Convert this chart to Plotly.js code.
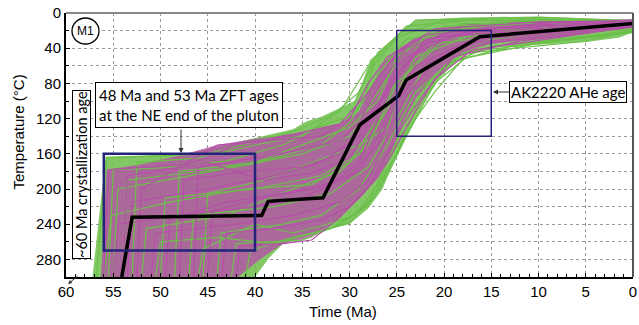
<!DOCTYPE html>
<html><head><meta charset="utf-8">
<script src="https://cdn.plot.ly/plotly-3.0.1.min.js"></script>
<style>html,body{margin:0;padding:0;background:#fff}#chart{width:639px;height:325px}</style>
</head><body><div id="chart"></div>
<script>
// ---- data ----
const timeTicks = [60,55,50,45,40,35,30,25,20,15,10,5,0];
const tempTicks = [0,40,80,120,160,200,240,280];

const bestFitTime = [54.1, 53.0, 39.3, 38.6, 32.8, 28.9, 24.8, 24.0, 16.2, 0];
const bestFitTemp = [300, 232, 230, 214, 210, 127, 94, 76, 27, 12];

const greenEnvTime = [57.2,55.8,52,47,44,40,36,34.5,33,31,29.5,28.6,27.8,26,24.9,23,18,10,0, 0,1.5,5,10,15,17.5,19,20.5,22,23.5,25,26.5,28,30,33,35,37,38.5,40];
const greenEnvTemp = [300,163,162,160,152,142,132,123,118,108,100,78,53,36,25,8,5,4,8, 22,28,33,36,40,47,58,75,100,130,160,200,222,240,248,255,262,278,300];

const magentaEnvTime = [56.3,55.7,52,48,44,40,35,31,29,28,26.5,25,23,20,17,10,0, 0,5,10,15,17,19,21,23,24.5,25.5,27,28.5,31,34,37,39.5,41.8];
const magentaEnvTemp = [300,178,172,162,150,143,136,126,112,88,58,42,28,18,12,9,7, 16,24,29,35,41,52,70,98,128,158,188,205,232,255,262,280,300];

// individual paths: [time, temp, time, temp, ...]
const greenPaths = [
 [56.8,300, 55.7,165, 45,160, 36,135, 31,112, 28,60, 24,15, 15,6, 0,10],
 [54,300, 53.5,190, 42,175, 35,160, 30,140, 27,90, 24,40, 18,12, 0,12],
 [50,300, 49.5,210, 40,200, 33,185, 29,160, 26,110, 23,50, 16,20, 0,14],
 [47,300, 46.5,230, 38,220, 32,205, 28,175, 25,120, 22,60, 15,30, 0,18],
 [44,300, 43.6,250, 37,240, 33,230, 29,200, 26,150, 23,90, 18,45, 0,22],
 [41,300, 40.5,270, 36,255, 32,245, 29,225, 27,195, 25,160, 23,110, 20,60, 15,38, 0,22],
 [55,300, 54.5,200, 47,185, 38,165, 33,150, 30,125, 27,70, 24,30, 12,8, 0,9],
 [52,300, 51.5,245, 43,230, 36,200, 31,180, 28,150, 25,80, 21,35, 10,20, 0,15],
 [48.5,300, 48,180, 40,170, 35,150, 30,130, 27,100, 25,50, 20,15, 0,11],
 [45.5,300, 45,205, 39,190, 34,170, 29,150, 26,130, 24,70, 20,30, 8,15, 0,14],
 [42.5,300, 42,262, 35,258, 31,240, 28,218, 26,185, 24,140, 21,80, 17,45, 5,32, 0,20],
 [56,300, 55.2,230, 49,215, 41,200, 34,195, 30,170, 27,120, 25,75, 22,25, 14,10, 0,8],
 [53,300, 52.5,170, 46,165, 40,150, 35,140, 32,118, 29,90, 27,45, 23,8, 10,5, 0,9],
 [50.5,300, 50,260, 44,255, 38,262, 33,248, 30,238, 28,215, 26,170, 24,120, 22,85, 19,55, 12,35, 0,20],
 [55.5,300, 55,178, 50,176, 43,168, 37,150, 33,128, 30,118, 28.5,100, 27.5,60, 25,28, 20,8, 0,10],
 [46,300, 45.5,268, 40,240, 36,250, 33,242, 30,232, 27.5,210, 26,180, 24.5,150, 23,120, 21,90, 18,52, 10,34, 0,21]
];
const magentaPaths = [
 [56,300, 55.5,178, 47,172, 42,150, 36,138, 31,126, 28,90, 25,45, 21,18, 10,10, 0,9],
 [53.5,300, 53,215, 45,200, 38,185, 33,170, 29,140, 26,90, 23,45, 18,22, 0,12],
 [51,300, 50.5,250, 42,240, 36,230, 31,215, 28,190, 26,140, 24,95, 21,55, 16,35, 0,15],
 [48,300, 47.5,190, 41,180, 35,175, 31,160, 28,120, 25,70, 22,35, 15,18, 0,11],
 [45,300, 44.5,225, 39,210, 34,200, 30,185, 27,150, 25,100, 22,60, 17,30, 0,13],
 [42,300, 41.6,265, 37,262, 34,258, 31,232, 28.5,205, 26,170, 24,130, 21,75, 17,42, 8,28, 0,15],
 [55,300, 54.5,240, 48,230, 40,220, 35,210, 32,195, 29,170, 27,120, 25,70, 22,30, 12,14, 0,10],
 [52.5,300, 52,200, 44,150, 38,145, 33,140, 30,120, 28,80, 26,50, 22,25, 10,12, 0,8],
 [49.5,300, 49,235, 43,215, 37,205, 32,195, 29,180, 27,140, 25,90, 23,60, 18,35, 0,14],
 [46.5,300, 46,175, 40,165, 35,155, 31,145, 29,125, 27,85, 24,40, 19,20, 0,10],
 [43.5,300, 43,250, 38,245, 33,235, 30,220, 28,198, 26,160, 24.5,130, 22,90, 19,50, 12,32, 0,16],
 [54,300, 53.5,185, 45,170, 39,190, 34,182, 30,165, 27,110, 25,60, 21,28, 0,11]
];

const zftBoxTime = [56, 40], zftBoxTemp = [160, 270];
const aheBoxTime = [25, 15], aheBoxTemp = [20, 140];

// ---- helpers ----
function flatten(paths){
  const x=[], y=[];
  paths.forEach(p=>{ for(let i=0;i<p.length;i+=2){ x.push(p[i]); y.push(p[i+1]); } x.push(null); y.push(null); });
  return {x, y};
}
// plot area in pixels: left 66, right 633, top 13, bottom 277
const PL=66, PR=633, PT=13, PB=277;
const px = v => (v-PL)/(PR-PL);
const py = v => 1-(v-PT)/(PB-PT);

const GREEN='#6cc04a', MAG='#b550a8', NAVY='#23237a';
const g = flatten(greenPaths), m = flatten(magentaPaths);

const traces = [
  {x:greenEnvTime, y:greenEnvTemp, type:'scatter', mode:'lines', fill:'toself', fillcolor:'rgba(108,192,74,0.85)', line:{width:0}},
  {x:magentaEnvTime, y:magentaEnvTemp, type:'scatter', mode:'lines', fill:'toself', fillcolor:'rgba(181,80,168,0.8)', line:{width:0}},
  {x:g.x, y:g.y, type:'scatter', mode:'lines', line:{color:GREEN, width:1.2}, connectgaps:false},
  {x:m.x, y:m.y, type:'scatter', mode:'lines', line:{color:MAG, width:1.2}, connectgaps:false},
  {x:bestFitTime, y:bestFitTemp, type:'scatter', mode:'lines', line:{color:'#000', width:3.5}}
];

const tickFont = {family:'"Liberation Sans", Arial, sans-serif', size:15, color:'#000'};
const noteFont = {family:'Lato, sans-serif', size:15, color:'#000'};
const ann = (o) => Object.assign({xref:'paper', yref:'paper', xanchor:'center', yanchor:'middle'}, o);

const layout = {
  width:639, height:325,
  margin:{l:PL, r:639-PR, t:PT, b:325-PB},
  paper_bgcolor:'#fff', plot_bgcolor:'#fff',
  showlegend:false, hovermode:false,
  xaxis:{range:[60,0], autorange:false, tickvals:timeTicks, ticktext:timeTicks.map(String),
    ticks:'inside', ticklen:4, tickcolor:'#000', showline:true, linecolor:'#000', linewidth:2,
    showgrid:true, gridcolor:'#999', griddash:'dot', gridwidth:1, zeroline:false,
    minor:{dtick:1, ticks:'inside', ticklen:3, tickcolor:'#000', showgrid:false},
    tickfont:tickFont},
  yaxis:{range:[300,0], autorange:false, tickvals:tempTicks, ticktext:tempTicks.map(String),
    ticks:'inside', ticklen:4, tickcolor:'#000', showline:true, linecolor:'#000', linewidth:2,
    showgrid:true, gridcolor:'#999', griddash:'dot', gridwidth:1, zeroline:false,
    minor:{dtick:20, ticks:'inside', ticklen:3, tickcolor:'#000', showgrid:true, gridcolor:'#999', griddash:'dot', gridwidth:1},
    tickfont:tickFont},
  shapes:[
    {type:'rect', xref:'x', yref:'y', x0:zftBoxTime[0], x1:zftBoxTime[1], y0:zftBoxTemp[0], y1:zftBoxTemp[1], line:{color:NAVY, width:2.5}},
    {type:'rect', xref:'x', yref:'y', x0:aheBoxTime[0], x1:aheBoxTime[1], y0:aheBoxTemp[0], y1:aheBoxTemp[1], line:{color:NAVY, width:1.5}},
    {type:'line', xref:'paper', yref:'paper', x0:0, x1:1, y0:1, y1:1, line:{color:'#888', width:2}},
    {type:'line', xref:'paper', yref:'paper', x0:1, x1:1, y0:0, y1:1, line:{color:'#555', width:2}},
    {type:'circle', xref:'paper', yref:'paper', x0:px(72), x1:px(99), y0:py(44), y1:py(18), line:{color:'#000', width:1.3}, fillcolor:'#fff'}
  ],
  annotations:[
    ann({x:px(85.5), y:py(31), text:'M1', showarrow:false, font:{family:'"Liberation Sans", Arial, sans-serif', size:12, color:'#000'}}),
    ann({x:px(342.5), y:py(311), text:'Time (Ma)', showarrow:false, font:tickFont}),
    ann({x:px(17.5), y:py(132), text:'Temperature (°C)', textangle:-90, showarrow:false, font:tickFont}),
    ann({x:px(189), y:py(104.5), text:'48 Ma and 53 Ma ZFT ages<br>at the NE end of the pluton', showarrow:false,
      font:noteFont, bgcolor:'#fff', bordercolor:'#000', borderwidth:1, borderpad:3}),
    ann({x:px(181), y:py(153), text:'', showarrow:true, ax:0, ay:-25, arrowhead:2, arrowsize:1, arrowwidth:1, arrowcolor:'#333'}),
    ann({x:px(493), y:py(92), text:'AK2220 AHe age', showarrow:true, ax:75, ay:0, arrowhead:2, arrowsize:1, arrowwidth:1, arrowcolor:'#333',
      font:noteFont, bgcolor:'#fff', bordercolor:'#000', borderwidth:1, borderpad:1}),
    ann({x:px(81), y:py(175), text:'~60 Ma crystallization age', textangle:-90, showarrow:false,
      font:{family:'Lato, sans-serif', size:14.5, color:'#000'}, bgcolor:'#fff', bordercolor:'#000', borderwidth:1, borderpad:0}),
    ann({x:px(68), y:py(284), text:'', showarrow:true, ax:11, ay:-9, arrowhead:2, arrowsize:0.8, arrowwidth:1, arrowcolor:'#333'})
  ]
};

Plotly.newPlot('chart', traces, layout, {staticPlot:true, displayModeBar:false});
</script>
</body></html>
